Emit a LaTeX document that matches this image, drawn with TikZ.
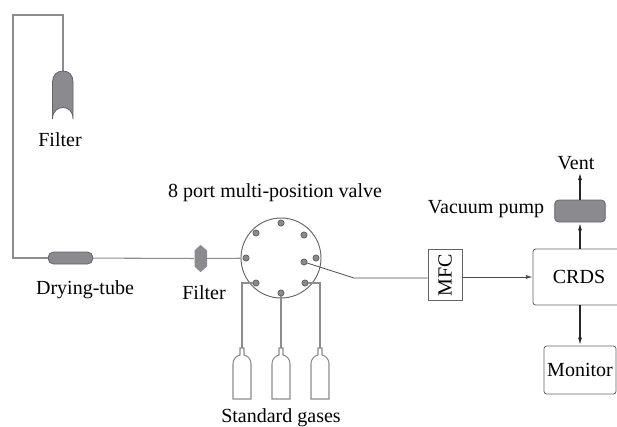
\documentclass[tikz,border=0pt]{standalone}
\usepackage{fontspec}
\setmainfont{Liberation Serif}
\usetikzlibrary{shapes, arrows, positioning, calc, arrows.meta}
\definecolor{pipeline}{RGB}{140, 140, 140}
\definecolor{partfill}{RGB}{138, 138, 143}
\definecolor{partedge}{RGB}{100, 100, 100}
\begin{document}
\begin{tikzpicture}[x=0.75pt, y=-0.75pt,
    pipe/.style={draw=pipeline, line width=0.8pt},
    part/.style={draw=partedge, fill=partfill, line width=0.6pt},
    port/.style={circle, part, inner sep=0pt, minimum size=4.6pt},
    box/.style={rectangle, draw=partedge, line width=0.6pt, rounded corners=2pt, align=center, font=\fontsize{15}{18}\selectfont},
    label/.style={font=\fontsize{15}{18}\selectfont, text=black, inner sep=0pt},
    flow/.style={-{Latex[length=6pt, width=3pt]}, line width=1.1pt, draw=black!85}
]
    \useasboundingbox (0,0) rectangle (617,426);

    % Sampling line
    \coordinate (filtertop) at (63,71);
    \coordinate (topright) at (63,15);
    \coordinate (topleft) at (13,15);
    \coordinate (bottomleft) at (13,258);
    \node[rectangle, part, rounded corners=4pt, minimum width=33.5pt, minimum height=9pt, inner sep=0pt] (dryer) at (70.5,258) {};
    \node[rectangle, minimum width=9.5pt, minimum height=20pt, inner sep=0pt] (filterb) at (200.5,258.5) {};
    \node[circle, draw=partedge, line width=0.7pt, minimum size=60pt, inner sep=0pt] (valve) at (281,258) {};

    \draw[pipe] (filtertop) -- (topright) -- (topleft) -- (bottomleft) -- (dryer);
    \draw[pipe] (dryer) -- (filterb);
    \draw[pipe] (filterb) -- (valve);

    % Both filters
    \draw[part] (52.5,119) -- (52.5,82) .. controls (52.5,75) and (57,71) .. (filtertop)
        .. controls (69,71) and (73,75) .. (73,82) -- (73,119)
        .. controls (73,111) and (68,107.5) .. (63,107.5)
        .. controls (58,107.5) and (52.5,111) .. (52.5,119);
    \fill[partfill] (filterb.north) -- (207,250.5) -- (207,266.5) -- (filterb.south) -- (194.5,266.5) -- (194.5,250.5) -- cycle;

    % Valve ports
    \node[port] (porta) at (281,223) {};
    \node[port] (portb) at (256,233) {};
    \node[port] (portc) at (304,235) {};
    \node[port] (portd) at (246,258) {};
    \node[port] (porte) at (316,258) {};
    \node[port] (portf) at (304,262) {};
    \node[port] (portg) at (256,283) {};
    \node[port] (porth) at (305,283) {};
    \node[port] (porti) at (281,293) {};

    % Standard gases
    \foreach \name/\px in {bottlea/242, bottleb/281, bottlec/320} {
        \coordinate (\name) at (\px,348);
        \draw[pipe] (\px-2,348) -- (\px-2,355) .. controls (\px-6,356) and (\px-9,359) .. (\px-9,364)
            -- (\px-9,399) -- (\px+9,399) -- (\px+9,364)
            .. controls (\px+9,359) and (\px+6,356) .. (\px+2,355) -- (\px+2,348) -- cycle;
    }
    \draw[pipe] (bottlea) |- (portg);
    \draw[pipe] (bottleb) -- (porti);
    \draw[pipe] (bottlec) |- (porth);

    % Analyser side
    \node[box, rotate=90, rounded corners=0pt, minimum width=38pt, minimum height=25.5pt, inner sep=0pt] (mfc) at (445,275) {MFC};
    \node[box, minimum width=69pt, minimum height=42pt, inner sep=0pt] (crds) at (579,277) {CRDS};
    \node[box, part, rounded corners=3pt, minimum width=38pt, minimum height=16.5pt, inner sep=0pt] (pump) at (580,211) {};
    \node[box, minimum width=54pt, minimum height=36pt, inner sep=0pt] (monitor) at (580,370) {Monitor};
    \node[label] (vent) at (576,163) {Vent};
    \coordinate (ventend) at (580,172);
    \coordinate (kink) at (354,278);

    \draw[draw=black!70, line width=0.6pt] (portf) -- (kink) -- (mfc.north |- kink);
    \draw[-{Latex[length=5pt, width=3pt]}, draw=black!70, line width=0.6pt] (mfc.south |- crds.west) -- (crds.west);
    \draw[flow] (crds.north -| pump) -- (pump);
    \draw[flow] (pump) -- (ventend);
    \draw[flow] (crds.south -| monitor) -- (monitor);

    % Labels
    \node[label] (filteratext) at (60,140) {Filter};
    \node[label] (dryertext) at (85,290) {Drying-tube};
    \node[label] (filterbtext) at (204,293) {Filter};
    \node[label] (valvetext) at (275,193) {8 port multi-position valve};
    \node[label] (gasestext) at (281,418) {Standard gases};
    \node[label] (pumptext) at (486,209) {Vacuum pump};
\end{tikzpicture}
\end{document}
